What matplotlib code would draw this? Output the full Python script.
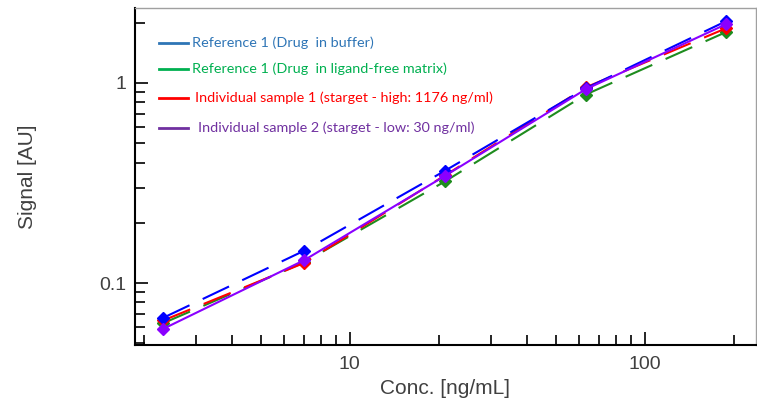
import numpy as np
import matplotlib
matplotlib.use('Agg')
import matplotlib.pyplot as plt
from matplotlib.lines import Line2D
from matplotlib.ticker import LogLocator, NullFormatter, FixedLocator, FixedFormatter

# concentrations (3-fold dilution series) and signals
conc = [2.33, 7.0, 21.0, 63.0, 189.0]
sig_buffer = [0.067, 0.145, 0.364, 0.94, 2.04]
sig_matrix = [0.063, 0.127, 0.322, 0.875, 1.80]
sig_high = [0.065, 0.126, 0.345, 0.95, 1.88]
sig_low = [0.059, 0.130, 0.343, 0.93, 1.97]

legend_labels = [
    'Reference 1 (Drug  in buffer)',
    'Reference 1 (Drug  in ligand-free matrix)',
    'Individual sample 1 (starget - high: 1176 ng/ml)',
    'Individual sample 2 (starget - low: 30 ng/ml)',
]
legend_colors = ['#2E75B6', '#00B050', '#FF0000', '#7030A0']

fig = plt.figure(figsize=(7.57, 4.01), dpi=100)
ax = fig.add_axes([135 / 757, 1 - 345 / 401, 621 / 757, 337 / 401])

dash = (0, (14, 7))
series = [
    (sig_matrix, '#1E8C1E', dash),
    (sig_high, '#FF0000', dash),
    (sig_buffer, '#0000FF', dash),
    (sig_low, '#8A00FF', '-'),
]
for vals, col, ls in series:
    ax.plot(conc, vals, color=col, lw=1.5, ls=ls)
    ax.plot(conc, vals, ls='none', marker='D', ms=6.5, color=col, mec=col)

ax.set_xscale('log')
ax.set_yscale('log')
ax.set_xlim(1.87, 238)
ax.set_ylim(0.049, 2.37)

ax.xaxis.set_major_locator(FixedLocator([10, 100]))
ax.xaxis.set_major_formatter(FixedFormatter(['10', '100']))
ax.xaxis.set_minor_locator(LogLocator(base=10, subs=np.arange(2, 10)))
ax.xaxis.set_minor_formatter(NullFormatter())
ax.yaxis.set_major_locator(FixedLocator([0.1, 1]))
ax.yaxis.set_major_formatter(FixedFormatter(['0.1', '1']))
ax.yaxis.set_minor_locator(LogLocator(base=10, subs=np.arange(2, 10)))
ax.yaxis.set_minor_formatter(NullFormatter())

ax.tick_params(which='major', direction='in', length=9.5, width=1.2,
               labelsize=14, labelcolor='#404040', top=False, right=False)
ax.tick_params(which='minor', direction='in', length=7, width=1.2,
               top=False, right=False)
ax.tick_params(axis='x', pad=8)
ax.tick_params(axis='y', pad=6)

for s in ['left', 'bottom']:
    ax.spines[s].set_color('black')
    ax.spines[s].set_linewidth(1.5)
for s in ['top', 'right']:
    ax.spines[s].set_color('#A0A0A0')
    ax.spines[s].set_linewidth(1.0)

ax.set_xlabel('Conc. [ng/mL]', fontsize=15, color='#404040',
              family='Liberation Sans', labelpad=4)
ax.set_ylabel('Signal [AU]', fontsize=15, color='#404040',
              family='Liberation Sans', labelpad=45)
for t in ax.get_xticklabels() + ax.get_yticklabels():
    t.set_family('Liberation Sans')

# hand-drawn legend on top of the plot
leg_y = [43, 69, 98, 128]
text_x = [192, 192, 195, 198]
for lbl, col, y, tx in zip(legend_labels, legend_colors, leg_y, text_x):
    yf = 1 - y / 401
    fig.add_artist(Line2D([159 / 757, 188 / 757], [yf, yf], color=col, lw=2,
                          transform=fig.transFigure))
    fig.text(tx / 757, yf, lbl, color=col, fontsize=10.4, family='Lato',
             va='center', ha='left')

fig.savefig('out.png', dpi=100)
